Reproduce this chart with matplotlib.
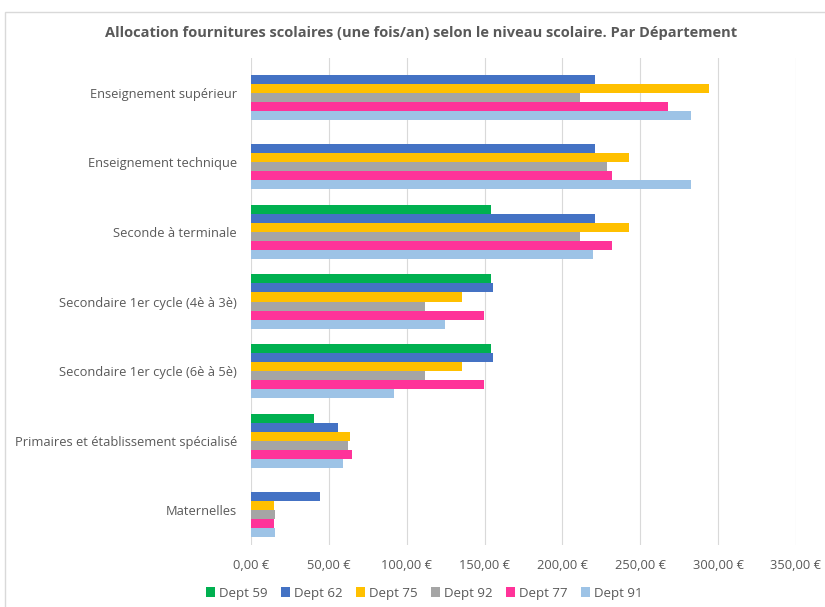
import numpy as np
import matplotlib
matplotlib.use("Agg")
import matplotlib.pyplot as plt
from matplotlib.patches import Rectangle
from matplotlib.ticker import FuncFormatter

plt.rcParams['font.family'] = ['Open Sans', 'DejaVu Sans']

categories = ["Maternelles",
              "Primaires et établissement spécialisé",
              "Secondaire 1er cycle (6è à 5è)",
              "Secondaire 1er cycle (4è à 3è)",
              "Seconde à terminale",
              "Enseignement technique",
              "Enseignement supérieur"]

series_names = ["Dept 59", "Dept 62", "Dept 75", "Dept 92", "Dept 77", "Dept 91"]
dept59 = [np.nan, 40.3, 153.9, 153.9, 153.9, np.nan, np.nan]
dept62 = [44.2, 55.8, 155.2, 155.2, 220.6, 220.6, 220.6]
dept75 = [15.0, 63.5, 135.4, 135.4, 242.9, 242.9, 294.2]
dept92 = [15.5, 62.4, 112.0, 112.0, 211.6, 228.5, 211.6]
dept77 = [14.8, 65.0, 149.8, 149.8, 231.8, 231.8, 268.0]
dept91 = [15.7, 58.8, 91.6, 124.7, 219.7, 282.6, 282.6]
series = [dept59, dept62, dept75, dept92, dept77, dept91]
colors = ["#00B050", "#4472C4", "#FFC000", "#A5A5A5", "#FF3399", "#9DC3E6"]

xticks = [0, 50, 100, 150, 200, 250, 300, 350]

W, H = 825, 607
fig = plt.figure(figsize=(W / 100, H / 100), dpi=100)
fig.patch.set_facecolor("white")

# chart border
fig.add_artist(Rectangle((5 / W, -0.1), 1.2, 1 - 12 / H + 0.1, transform=fig.transFigure,
                         fill=False, edgecolor="#D9D9D9", linewidth=1.0))

left, right = 251 / W, 796 / W
bottom, top = 1 - 545 / H, 1 - 58 / H
ax = fig.add_axes([left, bottom, right - left, top - bottom])

n = len(series)
bh = 0.13
y = np.arange(len(categories))
for i, (vals, col, name) in enumerate(zip(series, colors, series_names)):
    offs = (n - 1) / 2 - i
    ax.barh(y + offs * bh, vals, height=bh, color=col, label=name, zorder=3)

ax.set_xlim(0, 350)
ax.set_ylim(-0.5, len(categories) - 0.5)
ax.set_xticks(xticks)
ax.xaxis.set_major_formatter(FuncFormatter(lambda v, p: f"{v:.2f}".replace(".", ",") + " €"))
ax.set_yticks(y)
ax.set_yticklabels(categories)
ax.grid(axis="x", color="#D9D9D9", linewidth=0.8, zorder=0)
for s in ax.spines.values():
    s.set_visible(False)
ax.tick_params(axis="both", length=0, colors="#595959", labelsize=9.25)
ax.tick_params(axis="x", pad=10)
ax.tick_params(axis="y", pad=10)

fig.text(421 / W, 1 - 33 / H,
         "Allocation fournitures scolaires (une fois/an) selon le niveau scolaire. Par Département",
         ha="center", va="center", fontsize=10.5, fontweight="bold", color="#595959")

handles, labels = ax.get_legend_handles_labels()
leg = fig.legend(handles, labels, loc="center", bbox_to_anchor=(424 / W, 1 - 593 / H),
                 ncol=6, frameon=False, fontsize=9.5, handlelength=0.7, handleheight=0.7,
                 handletextpad=0.3, columnspacing=1.0, labelcolor="#595959")

fig.savefig("out.png", dpi=100, facecolor="white")
